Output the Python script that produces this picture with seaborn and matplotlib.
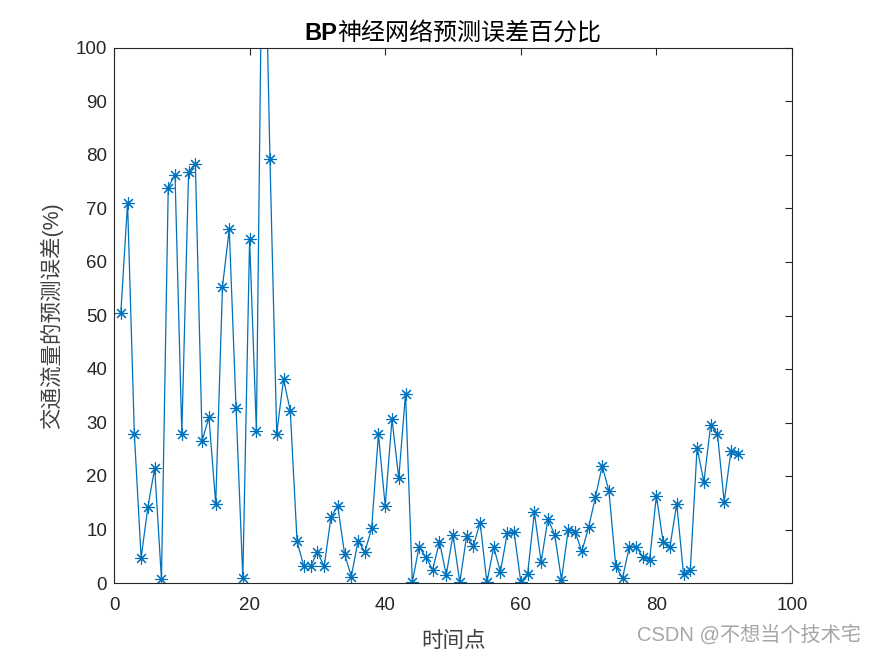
import numpy as np
import pandas as pd
import matplotlib
matplotlib.use("Agg")
import matplotlib.pyplot as plt
import seaborn as sns

# ---- data ----
time_points = list(range(1, 93))
error_pct = [
    50.4, 71.1, 27.9, 4.7, 14.2, 21.5, 0.7, 73.9, 76.3, 27.9,
    76.8, 78.4, 26.6, 31.0, 14.8, 55.4, 66.1, 32.8, 0.9, 64.3,
    28.4, 140.0, 79.3, 27.9, 38.1, 32.2, 7.8, 3.1, 3.1, 5.8,
    3.1, 12.3, 14.4, 5.5, 1.2, 7.9, 5.8, 10.2, 27.8, 14.4,
    30.6, 19.6, 35.4, 0.2, 6.8, 4.8, 2.5, 7.7, 1.5, 9.0,
    0.1, 8.7, 6.9, 11.3, 0.1, 6.7, 2.1, 9.3, 9.6, 0.2,
    1.7, 13.2, 3.9, 12.0, 9.0, 0.6, 10.0, 9.6, 5.9, 10.4,
    16.0, 21.9, 17.2, 3.2, 0.9, 6.7, 6.8, 4.9, 4.3, 16.3,
    7.6, 6.8, 14.8, 1.7, 2.4, 25.3, 18.9, 29.5, 27.9, 15.2,
    24.7, 24.1,
]
x_ticks = [0, 20, 40, 60, 80, 100]
y_ticks = [0, 10, 20, 30, 40, 50, 60, 70, 80, 90, 100]
title_bold = "BP"
title_rest = "神经网络预测误差百分比"
xlabel = "时间点"
ylabel = "交通流量的预测误差(%)"
watermark = "CSDN @不想当个技术宅"

df = pd.DataFrame({"t": time_points, "err": error_pct})

sns.set_theme(style="white")
fams = ["Liberation Sans", "Noto Sans CJK SC", "DejaVu Sans"]
plt.rcParams["font.family"] = fams
plt.rcParams["axes.unicode_minus"] = False

W, H = 875, 656
fig = plt.figure(figsize=(W / 100, H / 100), dpi=100)
ax = fig.add_axes([114 / W, 1 - 583 / H, (792 - 114) / W, (583 - 48) / H])

blue = "#0072BD"
sns.lineplot(data=df, x="t", y="err", ax=ax, color=blue, linewidth=0.9,
             marker=(8, 2, 0), markersize=9, markeredgecolor=blue,
             markeredgewidth=0.8, markerfacecolor=blue)

ax.set_xlim(0, 100)
ax.set_ylim(0, 100)
ax.set_xticks(x_ticks)
ax.set_yticks(y_ticks)
ax.set_xticklabels([str(v) for v in x_ticks])
ax.set_yticklabels([str(v) for v in y_ticks])
axc = "#262626"
ax.tick_params(axis="both", which="both", direction="in", length=5, width=0.8,
               colors=axc, labelsize=13.5, top=True, right=True,
               labeltop=False, labelright=False)
ax.tick_params(axis="x", pad=10)
ax.tick_params(axis="y", pad=5)
for s in ax.spines.values():
    s.set_visible(True)
    s.set_color(axc)
    s.set_linewidth(0.8)
ax.grid(False)

ax.set_xlabel(xlabel, fontsize=15.5, color="#404040", labelpad=12)
ax.set_ylabel(ylabel, fontsize=15.5, color="#404040", labelpad=9)

# title: bold "BP" + normal rest, centered over axes
fig.canvas.draw()
r = fig.canvas.get_renderer()
ty = 1 - 33 / H
t1 = fig.text(0, ty, title_bold, fontsize=17, fontweight="bold", color="black",
              va="center", ha="left", family=fams)
t2 = fig.text(0, ty, title_rest, fontsize=17.3, color="black",
              va="center", ha="left", family=fams)
w1 = t1.get_window_extent(r).width
w2 = t2.get_window_extent(r).width
cx = (114 + 792) / 2
x0 = cx - (w1 + w2) / 2
t1.set_x(x0 / W)
t2.set_x((x0 + w1) / W)

fig.text(861 / W, 1 - 634 / H, watermark, fontsize=14.5, color="#a6a6a6",
         ha="right", va="center", family=fams)

fig.savefig("out.png", dpi=100, facecolor="white")
